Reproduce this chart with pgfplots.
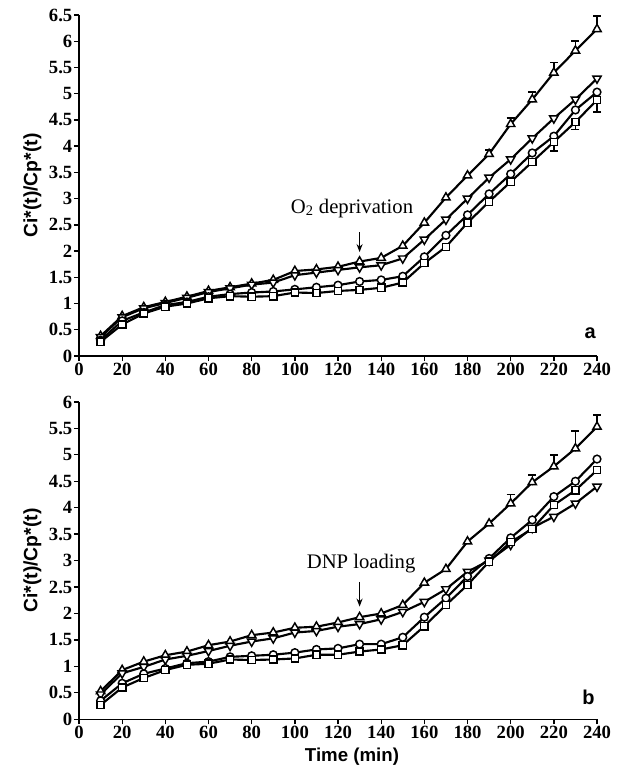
\documentclass[border=0pt]{standalone}
\usepackage{fontspec}
\setmainfont{Liberation Serif}
\setsansfont{Liberation Sans}
\usepackage{pgfplots}
\usepackage{pgfplotstable}
\pgfplotsset{compat=1.18}
\usetikzlibrary{arrows.meta}

\pgfplotstableread{
x up dn ci sq
10 0.38 0.36 0.30 0.27
20 0.76 0.74 0.67 0.60
30 0.93 0.91 0.83 0.81
40 1.03 1.01 0.97 0.94
50 1.13 1.11 1.03 1.00
60 1.24 1.22 1.13 1.10
70 1.31 1.29 1.18 1.14
80 1.38 1.36 1.21 1.13
90 1.45 1.40 1.23 1.14
100 1.62 1.54 1.27 1.21
110 1.65 1.59 1.31 1.20
120 1.70 1.64 1.35 1.24
130 1.80 1.69 1.42 1.26
140 1.87 1.73 1.45 1.30
150 2.10 1.86 1.52 1.40
160 2.54 2.22 1.89 1.77
170 3.02 2.60 2.30 2.08
180 3.44 3.00 2.69 2.54
190 3.85 3.40 3.09 2.94
200 4.42 3.75 3.47 3.32
210 4.89 4.15 3.87 3.70
220 5.40 4.53 4.19 4.08
230 5.82 4.89 4.69 4.46
240 6.23 5.29 5.03 4.88
}\topdata

\pgfplotstableread{
x y e
190 3.85 0.08
200 4.42 0.12
210 4.89 0.14
220 5.40 0.19
230 5.82 0.18
240 6.23 0.25
}\topupErr

\pgfplotstableread{
x y e
220 4.08 0.17
230 4.46 0.14
240 4.88 0.23
}\topsqErr

\pgfplotstableread{
x up dn ci sq
10 0.53 0.47 0.35 0.27
20 0.93 0.87 0.68 0.60
30 1.09 0.99 0.86 0.78
40 1.21 1.13 0.96 0.93
50 1.28 1.20 1.06 1.03
60 1.40 1.29 1.09 1.05
70 1.47 1.39 1.18 1.13
80 1.59 1.47 1.20 1.12
90 1.64 1.53 1.22 1.13
100 1.73 1.64 1.26 1.15
110 1.75 1.67 1.32 1.22
120 1.83 1.75 1.34 1.22
130 1.93 1.80 1.42 1.28
140 2.00 1.89 1.42 1.32
150 2.16 2.03 1.55 1.40
160 2.58 2.22 1.93 1.76
170 2.84 2.46 2.29 2.16
180 3.36 2.79 2.70 2.54
190 3.70 3.00 3.04 2.98
200 4.08 3.30 3.43 3.35
210 4.48 3.62 3.77 3.60
220 4.78 3.83 4.21 4.05
230 5.12 4.08 4.50 4.33
240 5.53 4.40 4.92 4.71
}\botdata

\pgfplotstableread{
x y e
200 4.08 0.17
210 4.48 0.14
220 4.78 0.22
230 5.12 0.33
240 5.53 0.22
}\botupErr

\tikzset{mk/.style={solid, fill=white, line width=1.1pt}}

\pgfplotsset{
  panel/.style={
    scale only axis,
    width=388.5pt,
    anchor=south west,
    axis lines=left,
    axis line style={-, line width=1.1pt},
    xmin=0, xmax=240,
    xtick={0,20,...,240},
    tick align=outside,
    major tick length=3.8pt,
    tick style={black, line width=1pt},
    /pgf/number format/assume math mode=true,
    /pgf/number format/fixed,
    tick label style={font=\fontsize{14}{14}\selectfont\bfseries},
    xticklabel style={inner sep=1pt},
    yticklabel style={inner sep=1pt},
    ylabel={Ci*(t)/Cp*(t)},
    ylabel style={font=\fontsize{14.5}{14.5}\selectfont\sffamily\bfseries,
      at={(axis description cs:-0.09,0.5)}, anchor=center},
    clip=false,
  },
  ser/.style={black, line width=1.6pt},
  errp/.style={only marks, mark=none, forget plot,
    error bars/.cd, y explicit, y dir=#1,
    error bar style={black, line width=1.1pt},
    error mark options={rotate=90, black, line width=1.1pt, mark size=3pt}},
}

\begin{document}
\begin{tikzpicture}
\path[use as bounding box] (0,0) rectangle (462.75pt,579.75pt);

% ---------- panel a ----------
\begin{axis}[panel, at={(59.25pt,312.75pt)}, height=255.75pt,
  ymin=0, ymax=6.5, ytick={0,0.5,...,6.5}]
\addplot[errp=plus] table[x=x, y=y, y error=e]{\topupErr};
\addplot[errp=minus] table[x=x, y=y, y error=e]{\topsqErr};
\addplot[ser, mark=triangle*, mark size=3.6pt, mark options={mk}] table[x=x, y=up]{\topdata};
\addplot[ser, mark=triangle*, mark size=3.6pt, mark options={mk, rotate=180}] table[x=x, y=dn]{\topdata};
\addplot[ser, mark=*, mark size=2.9pt, mark options={mk}] table[x=x, y=ci]{\topdata};
\addplot[ser, mark=square*, mark size=2.7pt, mark options={mk}] table[x=x, y=sq]{\topdata};
\node[font=\fontsize{15.5}{15.5}\selectfont] at (axis cs:126.5,2.82) {O\textsubscript{2} deprivation};
\draw[-{Stealth[length=6pt,width=4.5pt]}, line width=1.1pt] (axis cs:130,2.36) -- (axis cs:130,1.98);
\node[font=\fontsize{15}{15}\selectfont\sffamily\bfseries] at (axis cs:236.8,0.44) {a};
\end{axis}

% ---------- panel b ----------
\begin{axis}[panel, at={(59.25pt,40.3pt)}, height=238pt,
  ymin=0, ymax=6, ytick={0,0.5,...,6},
  xlabel={Time (min)},
  xlabel style={font=\fontsize{14}{14}\selectfont\sffamily\bfseries,
    at={(axis description cs:0.527,-0.119)}, anchor=center}]
\addplot[errp=plus] table[x=x, y=y, y error=e]{\botupErr};
\addplot[ser, mark=triangle*, mark size=3.6pt, mark options={mk}] table[x=x, y=up]{\botdata};
\addplot[ser, mark=triangle*, mark size=3.6pt, mark options={mk, rotate=180}] table[x=x, y=dn]{\botdata};
\addplot[ser, mark=*, mark size=2.9pt, mark options={mk}] table[x=x, y=ci]{\botdata};
\addplot[ser, mark=square*, mark size=2.7pt, mark options={mk}] table[x=x, y=sq]{\botdata};
\node[font=\fontsize{15.5}{15.5}\selectfont] at (axis cs:130.7,2.95) {DNP loading};
\draw[-{Stealth[length=6pt,width=4.5pt]}, line width=1.1pt] (axis cs:130,2.60) -- (axis cs:130,2.13);
\node[font=\fontsize{15}{15}\selectfont\sffamily\bfseries] at (axis cs:236,0.42) {b};
\end{axis}
\end{tikzpicture}
\end{document}
